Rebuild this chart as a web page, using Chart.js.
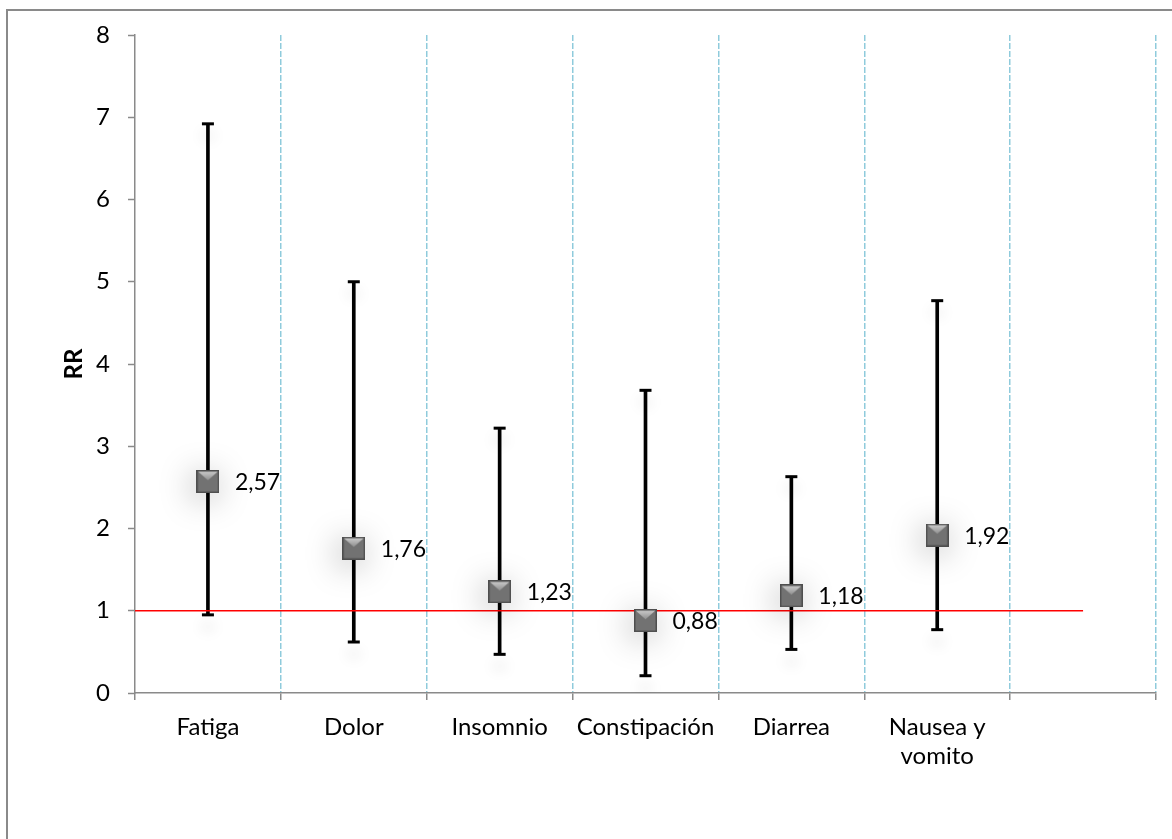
<!DOCTYPE html>
<html>
<head>
<meta charset="utf-8">
<script src="https://cdn.jsdelivr.net/npm/chart.js@4/dist/chart.umd.min.js"></script>
<style>
  html, body { margin: 0; padding: 0; background: #ffffff; }
  body { width: 1172px; height: 839px; position: relative; overflow: hidden; }
  #frame { position: absolute; left: 6px; top: 9px; width: 1300px; height: 1000px;
           border: 2px solid #8a8a8a; box-sizing: border-box; z-index: 0; }
  #wrap { position: absolute; left: 0; top: 0; width: 1172px; height: 839px; z-index: 1; }
</style>
</head>
<body>
<div id="frame"></div>
<div id="wrap"><canvas id="c" width="1172" height="839"></canvas></div>
<script>
// ---- data ----
const categories = ['Fatiga', 'Dolor', 'Insomnio', 'Constipación', 'Diarrea', 'Nausea y vomito', ''];
const categoryLines = [['Fatiga'], ['Dolor'], ['Insomnio'], ['Constipación'], ['Diarrea'], ['Nausea y', 'vomito'], ['']];
const rrValues = [2.57, 1.76, 1.23, 0.88, 1.18, 1.92];
const lowerCI  = [0.95, 0.62, 0.47, 0.21, 0.53, 0.77];
const upperCI  = [6.92, 5.00, 3.22, 3.68, 2.63, 4.77];
const referenceRR = 1;
const yMin = 0, yMax = 8, yStep = 1;

// ---- marker image (bevelled square) ----
function makeMarker(s) {
  const c = document.createElement('canvas');
  c.width = s; c.height = s;
  const g = c.getContext('2d');
  g.fillStyle = '#727272';
  g.fillRect(0, 0, s, s);
  // top light face
  const gr = g.createLinearGradient(0, 0, 0, s * 0.45);
  gr.addColorStop(0, '#d4d4d4');
  gr.addColorStop(1, '#8e8e8e');
  g.fillStyle = gr;
  g.beginPath(); g.moveTo(0, 0); g.lineTo(s, 0); g.lineTo(s / 2, s * 0.45); g.closePath(); g.fill();
  g.strokeStyle = '#4e4e4e';
  g.lineWidth = 1.5;
  g.strokeRect(0.75, 0.75, s - 1.5, s - 1.5);
  return c;
}
const markerImg = makeMarker(23);

const FONT = 'Lato, "Open Sans", sans-serif';
const AXIS_GREY = '#8a8a8a';
const fmt = v => v.toFixed(2).replace('.', ',');
const isBoundary = v => Math.abs(v - Math.round(v)) < 1e-6;

// ---- plugins ----
const shadowPlugin = {
  id: 'softShadow',
  beforeDatasetDraw(chart, args) {
    const ds = chart.data.datasets[args.index];
    if (ds.shadow) {
      const ctx = chart.ctx;
      ctx.save();
      ctx.shadowColor = ds.shadow.color;
      ctx.shadowBlur = ds.shadow.blur;
      ctx.shadowOffsetX = ds.shadow.dx;
      ctx.shadowOffsetY = ds.shadow.dy;
    }
  },
  afterDatasetDraw(chart, args) {
    const ds = chart.data.datasets[args.index];
    if (ds.shadow) chart.ctx.restore();
  }
};

const labelPlugin = {
  id: 'valueLabels',
  afterDatasetsDraw(chart) {
    const ctx = chart.ctx;
    chart.data.datasets.forEach((ds, i) => {
      if (!ds.valueLabels) return;
      const meta = chart.getDatasetMeta(i);
      ctx.save();
      ctx.font = '23px ' + FONT;
      ctx.fillStyle = '#000';
      ctx.textAlign = 'left';
      ctx.textBaseline = 'middle';
      meta.data.forEach((el, j) => {
        ctx.fillText(fmt(ds.data[j].y), el.x + 27, el.y + 1);
      });
      ctx.restore();
    });
  }
};

// ---- datasets ----
const ciBars = rrValues.map((v, i) => ({ x: i + 0.5, y: [lowerCI[i], upperCI[i]] }));
const caps = [];
rrValues.forEach((v, i) => {
  caps.push({ x: i + 0.5, y: lowerCI[i] });
  caps.push({ x: i + 0.5, y: upperCI[i] });
});
const points = rrValues.map((v, i) => ({ x: i + 0.5, y: v }));
const refLine = [{ x: 0, y: referenceRR }, { x: categories.length - 0.5, y: referenceRR }];

new Chart(document.getElementById('c'), {
  type: 'scatter',
  data: {
    datasets: [
      {
        type: 'bar', data: ciBars, backgroundColor: '#000', borderWidth: 0,
        barThickness: 3, order: 4
      },
      {
        type: 'scatter', data: caps, pointStyle: 'line', pointRadius: 6, pointHoverRadius: 6,
        borderColor: '#000', pointBorderWidth: 3, backgroundColor: '#000', order: 3,
        shadow: { color: 'rgba(0,0,0,0.22)', blur: 14, dx: 0, dy: 12 }
      },
      {
        type: 'line', data: refLine, borderColor: '#ff0000', borderWidth: 1.5,
        pointRadius: 0, fill: false, order: 2
      },
      {
        type: 'scatter', data: points, pointStyle: markerImg, pointRadius: 11.5, order: 1,
        valueLabels: true,
        shadow: { color: 'rgba(0,0,0,0.32)', blur: 32, dx: -3, dy: 5 }
      }
    ]
  },
  options: {
    responsive: false,
    animation: false,
    events: [],
    layout: { padding: { top: 35, right: 16, left: 0, bottom: 0 } },
    plugins: { legend: { display: false }, tooltip: { enabled: false } },
    scales: {
      x: {
        type: 'linear', min: 0, max: categories.length, offset: false,
        afterFit: s => { s.height = 146; },
        afterBuildTicks: s => {
          const t = [];
          for (let i = 0; i <= categories.length * 2; i++) t.push({ value: i / 2 });
          s.ticks = t;
        },
        ticks: {
          autoSkip: false, maxRotation: 0, minRotation: 0, padding: 13,
          color: '#000', font: { family: FONT, size: 24 },
          callback: v => isBoundary(v) ? '' : categoryLines[Math.floor(v)]
        },
        grid: {
          offset: false, drawOnChartArea: true, lineWidth: 1.5, tickLength: 7, tickWidth: 1.5,
          color: c => (c.tick && isBoundary(c.tick.value) && c.tick.value > 0) ? '#8fcbdc' : 'rgba(0,0,0,0)',
          tickColor: c => (c.tick && isBoundary(c.tick.value)) ? AXIS_GREY : 'rgba(0,0,0,0)',
          tickBorderDash: []
        },
        border: { display: true, color: AXIS_GREY, width: 1.5, dash: [6, 2] }
      },
      y: {
        min: yMin, max: yMax,
        afterFit: s => { s.width = 135; },
        ticks: { stepSize: yStep, padding: 18, color: '#000', font: { family: FONT, size: 24 } },
        grid: { drawOnChartArea: false, tickLength: 7, tickWidth: 1.5, tickColor: AXIS_GREY },
        border: { display: true, color: AXIS_GREY, width: 1.5 },
        title: {
          display: true, text: 'RR', color: '#000',
          font: { family: FONT, size: 24, weight: 'bold' },
          padding: { top: 60, bottom: 0 }
        }
      }
    }
  },
  plugins: [shadowPlugin, labelPlugin]
});
</script>
</body>
</html>
